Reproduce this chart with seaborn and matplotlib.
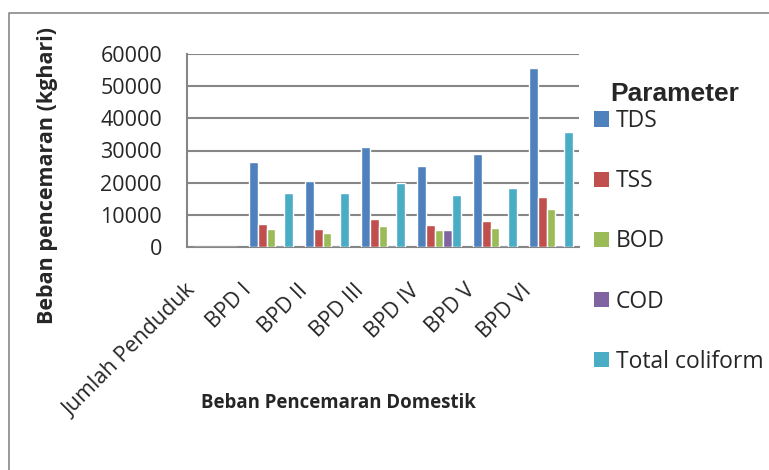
import numpy as np
import pandas as pd
import seaborn as sns
import matplotlib.pyplot as plt
import matplotlib.transforms as mtransforms
from matplotlib.patches import Patch
from matplotlib.lines import Line2D

# data
categories = ["Jumlah Penduduk", "BPD I", "BPD II", "BPD III", "BPD IV", "BPD V", "BPD VI"]
parameters = ["TDS", "TSS", "BOD", "COD", "Total coliform"]
tds = [0, 26400, 20400, 31050, 25150, 28900, 55700]
tss = [0, 7240, 5590, 8700, 6930, 7950, 15400]
bod = [0, 5590, 4230, 6620, 5280, 6000, 11900]
cod = [0, 0, 0, 150, 5280, 150, 650]
coliform = [0, 16860, 16860, 19870, 16150, 18320, 35600]
yticks = [0, 10000, 20000, 30000, 40000, 50000, 60000]

colors = ["#4F81BD", "#C0504D", "#9BBB59", "#8064A2", "#4BACC6"]

rows = []
for name, vals in zip(parameters, [tds, tss, bod, cod, coliform]):
    for cat, v in zip(categories, vals):
        rows.append({"kategori": cat, "Parameter": name, "nilai": v})
df = pd.DataFrame(rows)

sns.set_style("white")
plt.rcParams["font.family"] = ["Open Sans", "DejaVu Sans"]

fig = plt.figure(figsize=(7.69, 4.70), dpi=100)
ax = fig.add_axes([187 / 769, 1 - 247 / 470, 392 / 769, 193 / 470])

sns.barplot(data=df, x="kategori", y="nilai", hue="Parameter", order=categories,
            hue_order=parameters, palette=colors, width=0.77, saturation=1,
            ax=ax, legend=False, zorder=3)

ax.set_ylim(0, 60000)

# horizontal gridlines at the major ticks, below the bars
for t in yticks:
    ax.axhline(t, color="#868686", linewidth=1.5, zorder=2.6)

ax.set_yticks(yticks)
ax.set_yticklabels([str(t) for t in yticks], fontsize=15.5)
ax.tick_params(axis="y", length=0, pad=18)
ax.tick_params(axis="x", length=0, pad=0)

for s in ["top", "right"]:
    ax.spines[s].set_visible(False)
for s in ["left", "bottom"]:
    ax.spines[s].set_color("#868686")
    ax.spines[s].set_linewidth(1.5)

# rotated category labels, anchored at their upper right end
offset = mtransforms.ScaledTranslation(-0.30, -0.33, fig.dpi_scale_trans)
ax.set_xticks(range(len(categories)))
ax.set_xticklabels(categories, fontsize=15.5, rotation=45, ha="right", va="top",
                   rotation_mode="anchor")
for lab in ax.get_xticklabels():
    lab.set_transform(lab.get_transform() + offset)

ax.set_xlabel("Beban Pencemaran Domestik", fontsize=13.4, fontweight="bold")
ax.xaxis.set_label_coords((338 - 187) / 392, (247 - 403) / 193)
ax.xaxis.label.set_verticalalignment("center")
ax.set_ylabel("Beban pencemaran (kghari)", fontsize=15.5, fontweight="bold")
ax.yaxis.set_label_coords((48 - 187) / 392, (247 - 175) / 193)
ax.yaxis.label.set_verticalalignment("center")

# legend: title drawn separately so it sits close to the first entry
fig.text(675 / 769, 1 - 94 / 470, "Parameter", ha="center", va="center",
         family="Liberation Sans", fontweight="bold", fontsize=19)
handles = [Patch(facecolor=c, edgecolor="none") for c in colors]
fig.legend(handles, parameters, loc="upper left", bbox_to_anchor=(594 / 769, 1 - 109 / 470),
           frameon=False, fontsize=16.5, labelspacing=1.58, borderpad=0,
           handlelength=0.65, handleheight=0.65, handletextpad=0.3, borderaxespad=0)

# chart area border (left and top edges, the rest is cut off)
bx, by = 8.5 / 769, 1 - 12.5 / 470
fig.add_artist(Line2D([bx, bx, 1.0], [0.0, by, by], transform=fig.transFigure,
                      color="#878787", linewidth=1.2))

fig.savefig("out.png", dpi=100)
